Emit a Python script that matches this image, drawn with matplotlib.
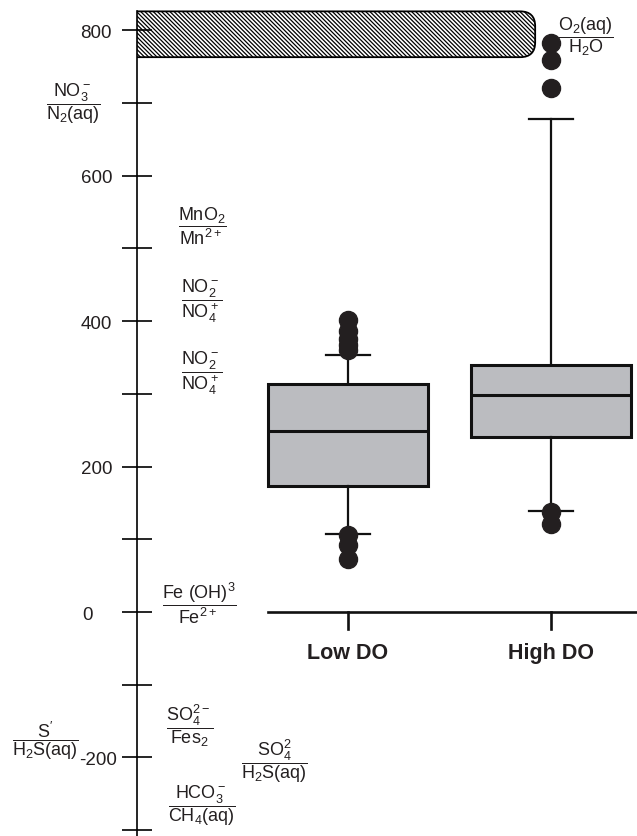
import matplotlib
matplotlib.use("Agg")
import matplotlib.pyplot as plt
import matplotlib.transforms as mtransforms
from matplotlib.patches import FancyBboxPatch

plt.rcParams['font.family'] = ['Liberation Sans', 'DejaVu Sans']
plt.rcParams['mathtext.fontset'] = 'custom'
plt.rcParams['mathtext.rm'] = 'Liberation Sans'
plt.rcParams['mathtext.it'] = 'Liberation Sans:italic'
plt.rcParams['mathtext.bf'] = 'Liberation Sans:bold'
plt.rcParams['hatch.linewidth'] = 0.9

# ORP (mV) box statistics per dissolved-oxygen group
groups = ['Low DO', 'High DO']
q1 = [173, 241]
med = [249, 298]
q3 = [313, 340]
whislo = [107, 139]
whishi = [353, 678]
fliers = [[402, 386, 376, 367, 360, 106, 92, 73],
          [783, 759, 720, 138, 121]]

# oxic band
oxic_lo, oxic_hi = 763, 826

# redox couples and their potentials (mV)
couples = [
    (r'NO_3^-', r'N_2(aq)', 700),
    (r'MnO_2', r'Mn^{2+}', 532),
    (r'NO_2^-', r'NO_4^+', 429),
    (r'NO_2^-', r'NO_4^+', 330),
    (r'Fe\ (OH)^3', r'Fe^{2+}', 14),
    (r'SO_4^{2-}', r'Fes_2', -155),
    (r'S^{\prime}', r'H_2S(aq)', -176),
    (r'SO_4^2', r'H_2S(aq)', -203),
    (r'HCO_3^-', r'CH_4(aq)', -265),
    (r'O_2(aq)', r'H_2O', 792),
]
couple_x = [-0.355, 0.281, 0.281, 0.281, 0.266, 0.222, -0.49, 0.635, 0.281, 2.172]

fig = plt.figure(figsize=(6.37, 8.37), dpi=100)
ax = fig.add_axes([137 / 637, 0, 500 / 637, 1])
ax.set_xlim(-0.0394, 2.4236)
ax.set_ylim(-308, 843)

for s in ['top', 'right', 'bottom']:
    ax.spines[s].set_visible(False)
ax.spines['left'].set_linewidth(1.2)
ax.spines['left'].set_bounds(-310, oxic_hi)

yt = list(range(-300, 801, 100))
ax.set_yticks(yt)
ax.set_yticklabels([str(v) if v % 200 == 0 else '' for v in yt], fontsize=13.5,
                   color='#231f20')
ax.tick_params(axis='y', direction='inout', length=22, width=1.2, pad=7)
ax.set_xticks([])
for lab, v in zip(ax.get_yticklabels(), yt):
    if v == 0:
        lab.set_transform(lab.get_transform() +
                          mtransforms.ScaledTranslation(-0.19, 0, fig.dpi_scale_trans))
    if v == -200:
        lab.set_transform(lab.get_transform() +
                          mtransforms.ScaledTranslation(0.05, 0, fig.dpi_scale_trans))

# hatched oxic band with a rounded right end
band = FancyBboxPatch((-0.4, oxic_lo), 1.922 + 0.4, oxic_hi - oxic_lo,
                      boxstyle='round,pad=0,rounding_size=0.074',
                      mutation_aspect=278, facecolor='white', edgecolor='black',
                      hatch='\\' * 8, linewidth=1.3, zorder=1)
ax.add_patch(band)

stats = []
for i in range(len(groups)):
    stats.append(dict(label=groups[i], q1=q1[i], med=med[i], q3=q3[i],
                      whislo=whislo[i], whishi=whishi[i], fliers=fliers[i]))

ax.bxp(stats, positions=[1, 2], widths=0.788, patch_artist=True,
       showfliers=True, manage_ticks=False,
       boxprops=dict(facecolor='#bbbcc0', edgecolor='#111111', linewidth=2.2),
       medianprops=dict(color='#111111', linewidth=2.2),
       whiskerprops=dict(color='#111111', linewidth=1.6),
       capprops=dict(color='#111111', linewidth=1.6),
       capwidths=0.22,
       flierprops=dict(marker='o', markersize=13, markerfacecolor='#231f20',
                       markeredgecolor='#231f20'))

# category baseline at 0 mV
ax.plot([0.606, 2.4236], [0, 0], color='#111111', linewidth=1.9, clip_on=False)
for i, g in enumerate(groups):
    ax.plot([i + 1, i + 1], [0, -23], color='#111111', linewidth=1.9)
    ax.text(i + 1, -55, g, ha='center', va='center', fontsize=15.5, fontweight='bold',
            color='#231f20')

for (num, den, y), x in zip(couples, couple_x):
    ax.text(x, y, r'$\dfrac{\mathrm{%s}}{\mathrm{%s}}$' % (num, den),
            ha='center', va='center', fontsize=13, color='#231f20', clip_on=False)

fig.savefig('out.png', dpi=100)
